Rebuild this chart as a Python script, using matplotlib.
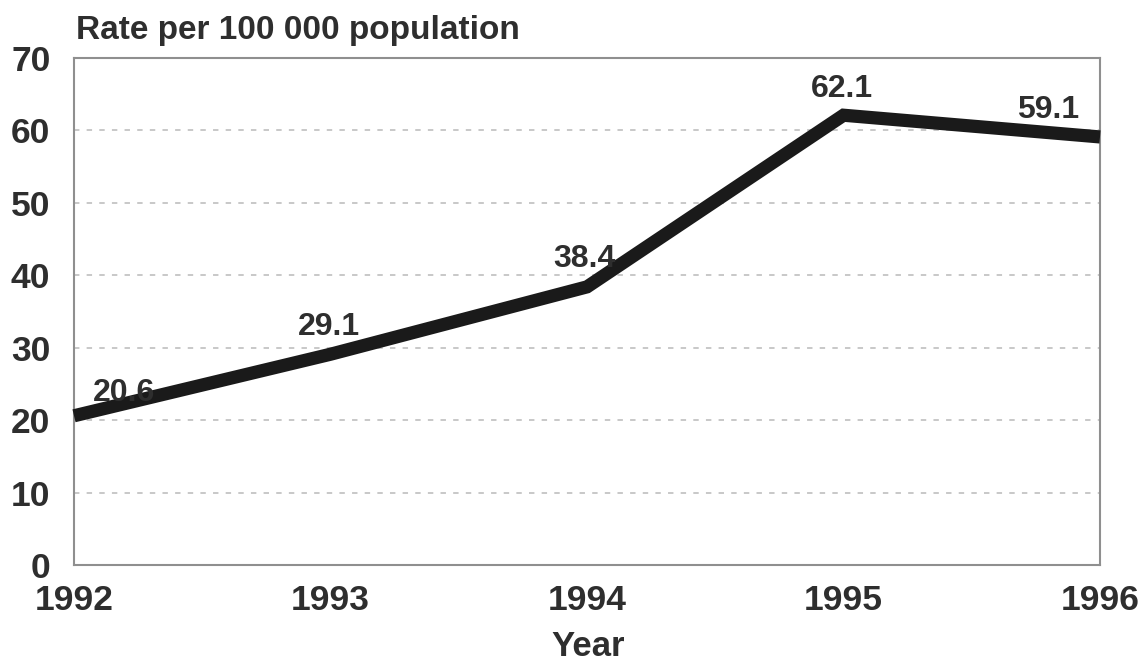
import matplotlib
matplotlib.use("Agg")
import matplotlib.pyplot as plt

years = [1992, 1993, 1994, 1995, 1996]
rates = [20.6, 29.1, 38.4, 62.1, 59.1]
label_texts = ["20.6", "29.1", "38.4", "62.1", "59.1"]
yticks = [0, 10, 20, 30, 40, 50, 60, 70]

plt.rcParams['font.family'] = ['Liberation Sans', 'DejaVu Sans']
W, H = 1147, 666
fig = plt.figure(figsize=(W / 100, H / 100), dpi=100)
ax = fig.add_axes([74 / W, (H - 565) / H, (1100 - 74) / W, (565 - 58) / H])

txt = '#2e2e2e'
ax.set_xlim(1992, 1996)
ax.set_ylim(0, 70)
ax.set_yticks(yticks)
ax.set_xticks(years)
ax.set_xticklabels([str(y) for y in years])
for y in yticks[1:-1]:
    ax.axhline(y, color='#c4c4c4', lw=1.3, ls=(0, (3, 4)), zorder=1)

ax.plot(years, rates, color='#1a1a1a', lw=9.5, solid_joinstyle='miter',
        solid_capstyle='butt', zorder=3, clip_on=False)

offsets = [(50, 15), (-2, 19), (-3, 20), (-2, 18), (-52, 19)]
for x, y, t, (dx, dy) in zip(years, rates, label_texts, offsets):
    ax.annotate(t, (x, y), xytext=(dx, dy), textcoords='offset pixels',
                ha='center', va='baseline', fontsize=23, fontweight='bold',
                color=txt, zorder=4)

ax.tick_params(axis='both', length=0, labelsize=25.5, labelcolor=txt)
ax.tick_params(axis='y', pad=17)
ax.tick_params(axis='x', pad=14)
for lab in ax.get_xticklabels() + ax.get_yticklabels():
    lab.set_fontweight('bold')
for s in ax.spines.values():
    s.set_color('#8f8f8f')
    s.set_linewidth(1.5)

fig.text(588 / W, (H - 656) / H, 'Year', fontsize=25, fontweight='bold',
         color=txt, ha='center', va='baseline')
fig.text(76 / W, (H - 39) / H, 'Rate per 100 000 population', fontsize=24,
         fontweight='bold', color=txt, ha='left', va='baseline')

fig.savefig('out.png', dpi=100, facecolor='white')
